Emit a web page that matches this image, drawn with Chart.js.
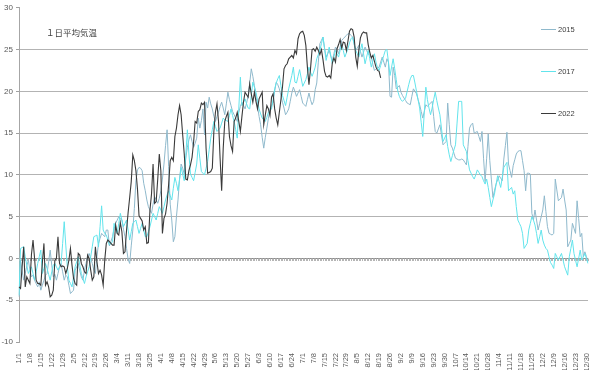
<!DOCTYPE html>
<html><head><meta charset="utf-8">
<script src="https://cdn.jsdelivr.net/npm/chart.js@4/dist/chart.umd.min.js"></script>
<style>html,body{margin:0;padding:0;background:#fff}</style>
</head><body>
<canvas id="c" width="600" height="370"></canvas>
<script>
// ---- data ----
const chartTitle = '１日平均気温';
const seriesNames = ['2015', '2017', '2022'];
const yMin = -10, yMax = 30, yStep = 5;
// category axis uses a leap-year calendar (1/1 .. 12/31, incl. 2/29)
const monthLengths = [31,29,31,30,31,30,31,31,30,31,30,31];
const dates = [];
monthLengths.forEach((n, m) => { for (let d = 1; d <= n; d++) dates.push((m + 1) + '/' + d); });

const temps2015 = [
 -4.6,-0.2,-1.5,-2.6,-1.8,-0.9,-0.2,-1.4,-2.2,-2.0,-2.6,-3.0,-3.4,-2.8,-3.8,-3.2,-2.6,-2.0,-1.8,-0.4,1.0,-0.8,-2.2,-1.9,-2.6,-1.8,-1.0,-0.6,-1.6,-2.6,-2.0,
 -2.2,-3.2,-4.2,-4.0,-3.8,-1.4,-1.0,-0.6,-1.5,-2.2,-2.6,-1.4,-0.6,0.2,0.6,0.0,-0.6,-1.4,-1.8,0.2,1.8,2.4,3.0,2.8,2.6,3.4,3.4,1.5,null,
 2.6,3.6,4.2,4.6,5.0,4.8,4.6,3.5,2.6,1.2,-0.1,-0.6,1.5,3.4,6.0,9.3,10.6,10.9,10.8,10.5,9.0,8.1,7.0,6.2,5.8,5.4,6.5,7.4,7.0,6.6,7.2,
 8.1,9.5,11.3,13.5,15.4,11.0,6.5,4.6,2.0,2.6,5.0,7.0,9.5,11.3,10.8,10.1,12.0,13.3,14.2,14.8,14.0,13.3,13.8,14.4,16.8,15.6,16.5,17.9,14.8,18.7,
 18.0,19.3,18.5,17.9,17.0,16.4,17.0,17.5,18.2,18.7,18.0,17.2,18.5,19.9,19.0,18.3,17.6,17.2,16.8,16.4,17.5,18.2,18.7,18.3,17.9,18.6,19.5,21.0,22.7,21.8,20.7,
 19.5,18.3,17.0,16.0,14.5,13.2,14.5,15.6,16.8,17.9,18.3,18.7,20.0,21.1,20.8,20.3,19.5,18.7,18.0,17.2,17.5,17.9,18.8,19.8,20.5,20.0,19.4,19.8,20.2,19.4,
 18.6,18.4,18.2,19.0,19.8,19.0,18.4,18.8,20.2,21.0,23.5,25.7,26.1,26.5,25.2,24.1,24.5,24.9,24.2,23.7,24.5,25.3,25.0,24.5,25.3,26.1,26.3,26.5,26.7,26.9,26.9,
 26.7,26.5,25.6,24.9,25.2,25.5,24.8,24.1,24.7,25.3,24.9,24.5,24.3,24.1,23.2,22.5,22.7,22.8,22.9,23.5,24.1,23.5,22.9,23.9,23.5,19.4,19.3,22.9,21.9,20.3,20.5,
 20.7,19.9,19.5,19.2,18.9,18.6,18.5,18.4,19.4,20.3,20.0,19.7,19.0,18.4,17.6,16.8,17.6,18.4,18.2,18.4,18.6,18.8,17.0,15.2,15.0,15.5,16.0,14.8,13.6,13.8,
 14.0,18.6,16.0,13.6,13.2,12.6,12.0,11.9,11.8,11.8,11.9,11.8,11.5,11.2,13.4,15.6,16.0,16.2,15.0,15.1,15.2,14.6,14.0,15.2,12.0,9.2,12.0,14.9,11.7,9.5,7.3,
 8.1,8.9,9.4,9.9,9.6,9.3,11.9,13.5,15.1,11.3,10.5,9.7,11.1,11.8,12.5,12.8,12.9,12.9,11.7,10.5,8.1,10.2,10.2,10.1,5.4,4.6,5.8,4.6,3.4,4.2,
 5.0,5.8,7.5,5.6,3.8,3.0,2.9,2.8,3.0,9.5,8.2,6.9,7.1,7.3,8.3,7.0,5.8,1.4,1.8,2.2,4.2,3.6,3.0,6.9,4.8,2.6,3.0,0.2,0.8,0.2,-0.4
];

const temps2017 = [
 -4.4,1.2,1.3,1.4,0.2,-0.8,-1.8,-1.4,-1.0,-1.8,-2.6,-1.6,-0.6,0.2,1.0,-1.8,-1.2,-0.6,-1.2,-1.9,-2.6,-1.6,-0.8,-0.6,-1.0,-1.4,-1.0,-0.6,1.8,4.4,1.6,
 -1.0,-2.6,-3.0,-3.4,-2.2,-1.0,-0.4,0.2,-0.8,-1.8,-2.4,-3.0,-2.2,-1.6,-1.0,0.2,1.4,2.6,2.7,2.8,1.4,3.8,6.3,3.4,3.0,2.8,2.2,1.6,null,
 2.0,4.2,3.4,3.0,4.2,5.4,4.6,3.8,4.2,4.6,3.4,2.2,3.2,4.2,4.4,4.6,3.8,3.0,3.6,4.2,3.4,2.6,2.6,3.2,3.8,4.6,5.4,5.0,4.6,5.4,6.2,
 5.8,5.4,6.2,7.0,7.6,8.1,7.5,7.0,8.4,9.7,9.0,8.1,9.5,10.9,10.1,9.3,12.3,15.4,12.5,10.1,9.7,9.3,10.3,11.3,13.6,12.0,10.4,10.2,10.0,10.8,
 11.6,13.0,14.4,15.4,16.4,15.8,15.2,15.4,15.6,16.2,16.8,16.6,16.5,16.4,17.1,17.9,17.1,16.4,15.4,14.4,18.0,21.7,18.3,18.7,19.1,18.5,18.0,17.9,19.5,21.1,20.5,
 19.9,18.9,17.9,17.3,16.8,16.6,16.4,16.9,17.5,17.7,17.9,19.0,20.3,21.0,21.5,21.9,20.7,19.5,18.9,18.3,19.3,20.3,21.1,21.9,22.9,21.1,21.0,21.8,22.6,21.6,
 20.6,21.0,21.4,22.1,22.9,22.3,21.8,22.3,22.9,23.9,24.4,24.9,25.7,26.5,25.1,23.7,24.5,25.3,24.3,23.3,24.1,24.9,24.5,24.1,24.9,25.7,24.9,24.1,24.6,25.1,25.8,
 26.3,26.5,25.7,24.9,24.5,24.1,24.9,25.7,24.5,23.3,24.1,24.9,23.9,22.9,23.7,24.5,23.5,22.8,22.5,23.1,23.7,24.3,24.9,25.0,23.5,21.9,22.9,23.9,22.7,21.4,20.0,
 19.4,19.0,18.8,19.0,19.2,20.0,20.8,21.5,21.9,21.9,21.0,20.0,19.0,18.0,16.3,14.6,17.5,20.5,19.0,18.0,17.2,18.0,19.0,19.9,18.9,18.0,17.2,15.6,14.0,14.4,
 14.8,13.4,12.4,11.6,12.3,13.0,13.6,16.2,18.8,18.8,18.8,13.6,13.2,12.8,11.7,10.6,10.2,9.8,9.5,10.0,10.6,10.3,10.0,9.8,9.3,8.9,9.5,8.5,7.3,6.2,7.0,
 7.7,8.8,9.9,9.2,8.5,9.7,10.9,11.2,11.5,8.1,8.3,8.5,7.7,8.1,6.2,4.6,4.2,3.8,3.0,1.2,1.5,1.8,3.4,4.2,5.0,4.6,4.0,3.0,1.8,2.6,
 3.4,2.2,1.6,1.2,1.0,0.2,-0.5,-0.8,-1.2,0.6,0.2,-0.2,0.2,0.6,-0.2,-1.0,-1.5,-2.0,0.2,1.2,2.2,0.6,-0.2,-1.0,0.0,1.0,-0.2,0.2,0.6,0.0,-0.6
];

const temps2022 = [
 -3.4,-3.6,-1.0,1.4,-3.4,-2.2,-2.6,-3.0,0.5,2.2,0.0,-2.6,-3.0,-3.0,-3.2,-0.5,1.8,-3.2,-2.8,-3.4,-4.6,-4.4,-3.8,-0.2,0.0,2.6,-0.6,-1.0,-0.9,-1.0,-1.8,
 -1.2,-0.2,1.2,-0.8,-2.4,-3.0,-3.2,0.6,0.4,-0.6,-1.0,-1.6,-1.8,0.4,0.0,-1.4,-2.6,-2.2,1.4,-0.4,-1.8,-1.4,-2.0,-3.2,-0.2,1.8,2.2,2.0,null,
 1.6,1.6,4.0,3.0,2.8,4.3,3.2,0.6,0.8,3.4,5.5,7.3,9.2,12.4,11.7,10.5,8.3,5.1,4.8,4.5,3.4,3.8,1.8,1.9,5.8,7.7,11.3,6.6,6.8,9.5,12.5,
 10.5,3.0,4.8,5.3,6.6,8.9,11.7,12.1,11.7,14.6,15.6,17.2,18.3,17.2,14.8,12.5,9.5,9.4,10.5,11.2,12.1,13.9,16.4,16.2,17.6,17.8,18.6,18.4,18.7,13.2,
 10.2,10.3,10.4,10.8,15.2,17.5,18.5,16.4,12.0,8.1,13.2,16.4,17.0,17.5,14.6,13.5,12.8,16.4,16.8,17.5,16.4,15.2,17.0,18.7,19.9,19.6,19.3,20.9,19.7,18.7,19.9,
 18.8,17.9,19.1,19.5,19.9,16.0,17.2,18.3,17.9,17.1,19.3,19.7,17.9,16.8,16.0,17.5,19.0,20.5,22.7,23.1,23.3,23.9,24.1,24.3,24.0,24.9,24.5,26.3,26.9,27.1,
 27.2,26.7,25.5,22.9,20.8,22.7,25.0,25.1,24.8,25.3,24.9,24.4,25.0,23.8,22.4,21.8,21.7,21.9,21.6,23.4,24.0,23.5,25.1,25.6,26.2,25.2,25.9,25.8,24.9,26.0,27.2,
 27.5,27.4,26.5,24.1,23.0,25.0,26.4,26.9,27.1,27.0,27.0,25.6,24.7,24.0,24.3,23.6,22.9,22.5,22.4,21.6
];

// ---- styling / drawing ----
const colors = ['#8fb9cc', '#62e4ec', '#3a3a3a'];
const numFont = '"Liberation Sans", "DejaVu Sans", sans-serif';

const decor = {
  id: 'decor',
  beforeDatasetsDraw(chart) {
    const { ctx, scales: { x, y } } = chart;
    const y0 = Math.round(y.getPixelForValue(0)) + 0.5;
    ctx.save();
    ctx.strokeStyle = '#b5b5b5';
    ctx.lineWidth = 1;
    ctx.beginPath();
    for (let i = 0; i < dates.length; i++) {
      const px = Math.round(x.getPixelForValue(i)) + 0.5;
      ctx.moveTo(px, y0);
      ctx.lineTo(px, y0 + 2.5);
    }
    ctx.stroke();
    ctx.restore();
  },
  afterDraw(chart) {
    const { ctx } = chart;
    ctx.save();
    ctx.fillStyle = '#404040';
    ctx.font = '8.5px "Noto Sans CJK JP", sans-serif';
    ctx.textBaseline = 'middle';
    ctx.textAlign = 'left';
    ctx.fillText(chartTitle, 46, 33);
    const legendY = [28.5, 70.5, 113];
    chart.data.datasets.forEach((ds, i) => {
      const ly = Math.round(legendY[i]) + 0.5;
      ctx.strokeStyle = ds.borderColor;
      ctx.lineWidth = 1;
      ctx.beginPath();
      ctx.moveTo(541, ly);
      ctx.lineTo(556, ly);
      ctx.stroke();
      ctx.fillStyle = '#404040';
      ctx.font = '7.5px ' + numFont;
      ctx.fillText(ds.label, 558, ly);
    });
    ctx.restore();
  }
};

new Chart(document.getElementById('c'), {
  type: 'line',
  data: {
    labels: dates,
    datasets: [
      { label: seriesNames[0], data: temps2015, borderColor: colors[0], borderWidth: 1, order: 2 },
      { label: seriesNames[1], data: temps2017, borderColor: colors[1], borderWidth: 1, order: 1 },
      { label: seriesNames[2], data: temps2022, borderColor: colors[2], borderWidth: 1.1, order: 0 }
    ]
  },
  options: {
    responsive: false,
    animation: false,
    spanGaps: true,
    layout: { padding: { top: 7, right: 6, left: 0, bottom: 0 } },
    elements: { point: { radius: 0 }, line: { tension: 0 } },
    plugins: { legend: { display: false }, tooltip: { enabled: false } },
    scales: {
      x: {
        type: 'category',
        offset: false,
        grid: { display: false },
        border: { display: false },
        ticks: {
          autoSkip: false, minRotation: 90, maxRotation: 90, padding: 3,
          color: '#595959', font: { size: 7.5, family: numFont },
          callback: (v, i) => (i % 7 === 0 ? dates[i] : '')
        },
        afterFit: s => { s.height = 28; }
      },
      y: {
        min: yMin, max: yMax,
        ticks: { stepSize: yStep, color: '#595959', padding: 3, font: { size: 8, family: numFont } },
        grid: {
          color: c => {
            const v = c.tick ? c.tick.value : null;
            if (v === yMin || v === yMax) return 'rgba(0,0,0,0)';
            if (v === 0) return '#8c8c8c';
            return '#b3b3b3';
          },
          tickColor: '#a0a0a0', tickLength: 3, drawTicks: true
        },
        border: { color: '#a6a6a6' },
        afterFit: s => { s.width = 19; }
      }
    }
  },
  plugins: [decor]
});
</script>
</body></html>
